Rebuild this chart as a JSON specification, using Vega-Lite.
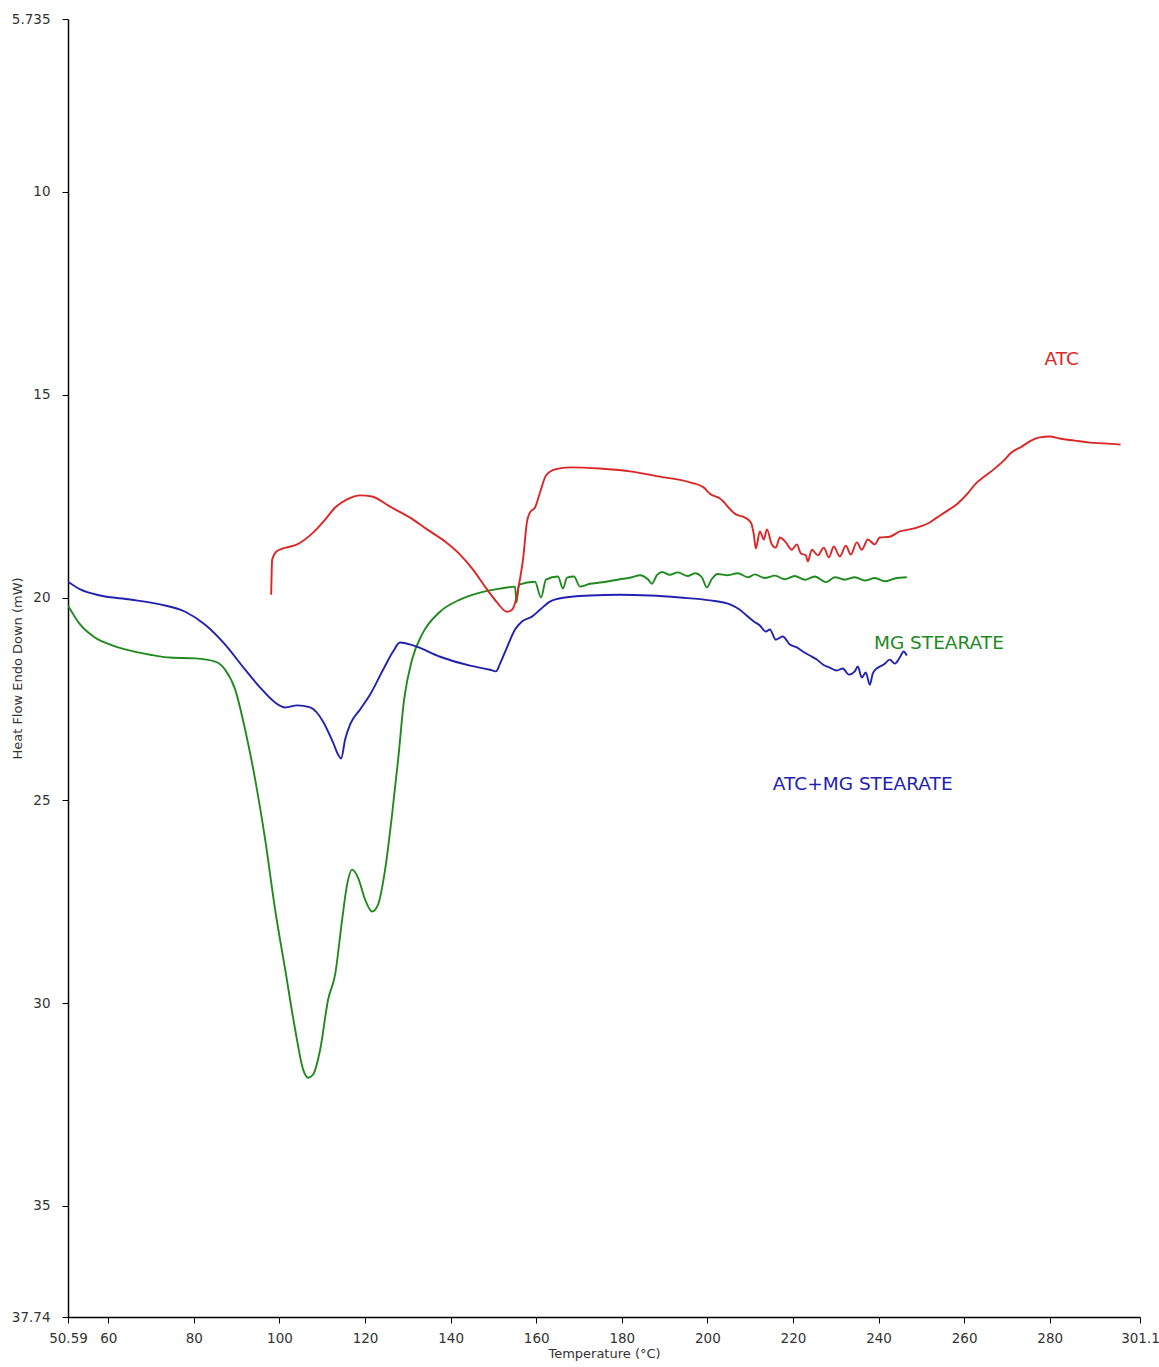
{
  "$schema": "https://vega.github.io/schema/vega-lite/v6.json",
  "width": 1072,
  "height": 1298,
  "autosize": {"type": "none"},
  "padding": {"left": 68, "top": 19, "right": 19, "bottom": 50},
  "background": "white",
  "config": {
    "view": {"stroke": null},
    "font": "DejaVu Sans",
    "axis": {"grid": false, "domainColor": "#000", "domainWidth": 1.5, "tickColor": "#000", "tickSize": 6, "labelFlush": false, "labelFont": "DejaVu Sans", "labelFontSize": 13.5, "labelColor": "#333", "titleFont": "DejaVu Sans", "titleFontSize": 13, "titleFontWeight": "normal", "titleColor": "#333"}
  },
  "datasets": {
    "curves": [
      {"T": 50.6, "HF": 20.2, "series": "MG STEARATE"},
      {"T": 53.46, "HF": 20.67, "series": "MG STEARATE"},
      {"T": 56.96, "HF": 20.99, "series": "MG STEARATE"},
      {"T": 60.47, "HF": 21.16, "series": "MG STEARATE"},
      {"T": 65.14, "HF": 21.31, "series": "MG STEARATE"},
      {"T": 69.81, "HF": 21.41, "series": "MG STEARATE"},
      {"T": 74.48, "HF": 21.48, "series": "MG STEARATE"},
      {"T": 80.32, "HF": 21.5, "series": "MG STEARATE"},
      {"T": 84.99, "HF": 21.58, "series": "MG STEARATE"},
      {"T": 87.32, "HF": 21.78, "series": "MG STEARATE"},
      {"T": 89.66, "HF": 22.27, "series": "MG STEARATE"},
      {"T": 91.99, "HF": 23.26, "series": "MG STEARATE"},
      {"T": 94.33, "HF": 24.49, "series": "MG STEARATE"},
      {"T": 96.67, "HF": 25.97, "series": "MG STEARATE"},
      {"T": 99.0, "HF": 27.7, "series": "MG STEARATE"},
      {"T": 101.34, "HF": 29.17, "series": "MG STEARATE"},
      {"T": 103.67, "HF": 30.65, "series": "MG STEARATE"},
      {"T": 105.54, "HF": 31.64, "series": "MG STEARATE"},
      {"T": 106.71, "HF": 31.84, "series": "MG STEARATE"},
      {"T": 107.87, "HF": 31.76, "series": "MG STEARATE"},
      {"T": 109.51, "HF": 31.15, "series": "MG STEARATE"},
      {"T": 111.38, "HF": 29.91, "series": "MG STEARATE"},
      {"T": 113.01, "HF": 29.3, "series": "MG STEARATE"},
      {"T": 114.65, "HF": 27.94, "series": "MG STEARATE"},
      {"T": 115.81, "HF": 27.08, "series": "MG STEARATE"},
      {"T": 116.98, "HF": 26.71, "series": "MG STEARATE"},
      {"T": 118.38, "HF": 26.91, "series": "MG STEARATE"},
      {"T": 120.02, "HF": 27.45, "series": "MG STEARATE"},
      {"T": 121.65, "HF": 27.74, "series": "MG STEARATE"},
      {"T": 123.05, "HF": 27.57, "series": "MG STEARATE"},
      {"T": 124.69, "HF": 26.71, "series": "MG STEARATE"},
      {"T": 126.32, "HF": 25.35, "series": "MG STEARATE"},
      {"T": 127.73, "HF": 24.0, "series": "MG STEARATE"},
      {"T": 129.13, "HF": 22.52, "series": "MG STEARATE"},
      {"T": 130.99, "HF": 21.53, "series": "MG STEARATE"},
      {"T": 133.33, "HF": 20.91, "series": "MG STEARATE"},
      {"T": 137.53, "HF": 20.35, "series": "MG STEARATE"},
      {"T": 142.2, "HF": 20.05, "series": "MG STEARATE"},
      {"T": 146.88, "HF": 19.88, "series": "MG STEARATE"},
      {"T": 151.55, "HF": 19.78, "series": "MG STEARATE"},
      {"T": 155.05, "HF": 19.73, "series": "MG STEARATE"},
      {"T": 155.4, "HF": 20.12, "series": "MG STEARATE"},
      {"T": 155.98, "HF": 19.68, "series": "MG STEARATE"},
      {"T": 159.72, "HF": 19.61, "series": "MG STEARATE"},
      {"T": 161.12, "HF": 20.0, "series": "MG STEARATE"},
      {"T": 162.29, "HF": 19.56, "series": "MG STEARATE"},
      {"T": 165.09, "HF": 19.48, "series": "MG STEARATE"},
      {"T": 166.26, "HF": 19.78, "series": "MG STEARATE"},
      {"T": 167.19, "HF": 19.51, "series": "MG STEARATE"},
      {"T": 168.83, "HF": 19.48, "series": "MG STEARATE"},
      {"T": 170.23, "HF": 19.73, "series": "MG STEARATE"},
      {"T": 172.56, "HF": 19.66, "series": "MG STEARATE"},
      {"T": 174.9, "HF": 19.63, "series": "MG STEARATE"},
      {"T": 179.57, "HF": 19.55, "series": "MG STEARATE"},
      {"T": 182.37, "HF": 19.5, "series": "MG STEARATE"},
      {"T": 184.24, "HF": 19.45, "series": "MG STEARATE"},
      {"T": 186.1, "HF": 19.55, "series": "MG STEARATE"},
      {"T": 187.04, "HF": 19.66, "series": "MG STEARATE"},
      {"T": 188.2, "HF": 19.45, "series": "MG STEARATE"},
      {"T": 189.4, "HF": 19.37, "series": "MG STEARATE"},
      {"T": 191.2, "HF": 19.44, "series": "MG STEARATE"},
      {"T": 193.1, "HF": 19.38, "series": "MG STEARATE"},
      {"T": 195.4, "HF": 19.47, "series": "MG STEARATE"},
      {"T": 197.1, "HF": 19.4, "series": "MG STEARATE"},
      {"T": 198.7, "HF": 19.5, "series": "MG STEARATE"},
      {"T": 199.9, "HF": 19.75, "series": "MG STEARATE"},
      {"T": 201.0, "HF": 19.55, "series": "MG STEARATE"},
      {"T": 202.4, "HF": 19.42, "series": "MG STEARATE"},
      {"T": 204.8, "HF": 19.45, "series": "MG STEARATE"},
      {"T": 207.1, "HF": 19.4, "series": "MG STEARATE"},
      {"T": 209.5, "HF": 19.5, "series": "MG STEARATE"},
      {"T": 211.1, "HF": 19.43, "series": "MG STEARATE"},
      {"T": 213.4, "HF": 19.52, "series": "MG STEARATE"},
      {"T": 215.8, "HF": 19.46, "series": "MG STEARATE"},
      {"T": 218.1, "HF": 19.55, "series": "MG STEARATE"},
      {"T": 220.4, "HF": 19.47, "series": "MG STEARATE"},
      {"T": 222.8, "HF": 19.56, "series": "MG STEARATE"},
      {"T": 225.1, "HF": 19.48, "series": "MG STEARATE"},
      {"T": 227.7, "HF": 19.62, "series": "MG STEARATE"},
      {"T": 229.8, "HF": 19.5, "series": "MG STEARATE"},
      {"T": 232.1, "HF": 19.56, "series": "MG STEARATE"},
      {"T": 234.5, "HF": 19.5, "series": "MG STEARATE"},
      {"T": 236.8, "HF": 19.58, "series": "MG STEARATE"},
      {"T": 239.1, "HF": 19.52, "series": "MG STEARATE"},
      {"T": 241.5, "HF": 19.6, "series": "MG STEARATE"},
      {"T": 243.8, "HF": 19.53, "series": "MG STEARATE"},
      {"T": 246.6, "HF": 19.5, "series": "MG STEARATE"},

      {"T": 98.07, "HF": 19.93, "series": "ATC"},
      {"T": 98.3, "HF": 19.06, "series": "ATC"},
      {"T": 99.23, "HF": 18.87, "series": "ATC"},
      {"T": 100.87, "HF": 18.79, "series": "ATC"},
      {"T": 104.14, "HF": 18.69, "series": "ATC"},
      {"T": 107.87, "HF": 18.4, "series": "ATC"},
      {"T": 110.68, "HF": 18.08, "series": "ATC"},
      {"T": 113.01, "HF": 17.78, "series": "ATC"},
      {"T": 115.81, "HF": 17.58, "series": "ATC"},
      {"T": 118.85, "HF": 17.48, "series": "ATC"},
      {"T": 121.65, "HF": 17.51, "series": "ATC"},
      {"T": 125.86, "HF": 17.76, "series": "ATC"},
      {"T": 130.53, "HF": 18.03, "series": "ATC"},
      {"T": 134.5, "HF": 18.32, "series": "ATC"},
      {"T": 138.7, "HF": 18.62, "series": "ATC"},
      {"T": 142.2, "HF": 18.94, "series": "ATC"},
      {"T": 145.24, "HF": 19.31, "series": "ATC"},
      {"T": 148.51, "HF": 19.8, "series": "ATC"},
      {"T": 150.85, "HF": 20.12, "series": "ATC"},
      {"T": 153.18, "HF": 20.35, "series": "ATC"},
      {"T": 154.35, "HF": 20.3, "series": "ATC"},
      {"T": 155.28, "HF": 20.05, "series": "ATC"},
      {"T": 155.98, "HF": 19.68, "series": "ATC"},
      {"T": 156.92, "HF": 19.06, "series": "ATC"},
      {"T": 157.85, "HF": 18.13, "series": "ATC"},
      {"T": 158.55, "HF": 17.9, "series": "ATC"},
      {"T": 159.72, "HF": 17.78, "series": "ATC"},
      {"T": 160.89, "HF": 17.41, "series": "ATC"},
      {"T": 162.29, "HF": 16.99, "series": "ATC"},
      {"T": 164.39, "HF": 16.84, "series": "ATC"},
      {"T": 167.89, "HF": 16.79, "series": "ATC"},
      {"T": 174.9, "HF": 16.82, "series": "ATC"},
      {"T": 181.9, "HF": 16.89, "series": "ATC"},
      {"T": 188.91, "HF": 17.02, "series": "ATC"},
      {"T": 195.92, "HF": 17.16, "series": "ATC"},
      {"T": 199.19, "HF": 17.29, "series": "ATC"},
      {"T": 200.59, "HF": 17.44, "series": "ATC"},
      {"T": 202.92, "HF": 17.56, "series": "ATC"},
      {"T": 206.66, "HF": 17.95, "series": "ATC"},
      {"T": 208.76, "HF": 18.03, "series": "ATC"},
      {"T": 210.16, "HF": 18.15, "series": "ATC"},
      {"T": 210.86, "HF": 18.45, "series": "ATC"},
      {"T": 211.33, "HF": 18.79, "series": "ATC"},
      {"T": 212.27, "HF": 18.37, "series": "ATC"},
      {"T": 213.2, "HF": 18.57, "series": "ATC"},
      {"T": 213.9, "HF": 18.32, "series": "ATC"},
      {"T": 215.07, "HF": 18.69, "series": "ATC"},
      {"T": 216.0, "HF": 18.77, "series": "ATC"},
      {"T": 216.94, "HF": 18.52, "series": "ATC"},
      {"T": 218.34, "HF": 18.64, "series": "ATC"},
      {"T": 219.74, "HF": 18.82, "series": "ATC"},
      {"T": 220.91, "HF": 18.69, "series": "ATC"},
      {"T": 221.84, "HF": 18.91, "series": "ATC"},
      {"T": 223.01, "HF": 18.96, "series": "ATC"},
      {"T": 223.48, "HF": 19.11, "series": "ATC"},
      {"T": 224.41, "HF": 18.82, "series": "ATC"},
      {"T": 225.81, "HF": 18.96, "series": "ATC"},
      {"T": 227.21, "HF": 18.77, "series": "ATC"},
      {"T": 228.38, "HF": 19.01, "series": "ATC"},
      {"T": 229.55, "HF": 18.74, "series": "ATC"},
      {"T": 230.95, "HF": 18.99, "series": "ATC"},
      {"T": 232.35, "HF": 18.72, "series": "ATC"},
      {"T": 233.52, "HF": 18.94, "series": "ATC"},
      {"T": 234.92, "HF": 18.64, "series": "ATC"},
      {"T": 236.09, "HF": 18.82, "series": "ATC"},
      {"T": 237.49, "HF": 18.57, "series": "ATC"},
      {"T": 239.12, "HF": 18.69, "series": "ATC"},
      {"T": 240.29, "HF": 18.52, "series": "ATC"},
      {"T": 242.63, "HF": 18.5, "series": "ATC"},
      {"T": 244.96, "HF": 18.37, "series": "ATC"},
      {"T": 247.3, "HF": 18.32, "series": "ATC"},
      {"T": 249.63, "HF": 18.25, "series": "ATC"},
      {"T": 251.97, "HF": 18.15, "series": "ATC"},
      {"T": 253.6, "HF": 18.03, "series": "ATC"},
      {"T": 255.47, "HF": 17.9, "series": "ATC"},
      {"T": 258.51, "HF": 17.68, "series": "ATC"},
      {"T": 260.84, "HF": 17.43, "series": "ATC"},
      {"T": 262.71, "HF": 17.19, "series": "ATC"},
      {"T": 264.81, "HF": 17.01, "series": "ATC"},
      {"T": 266.91, "HF": 16.84, "series": "ATC"},
      {"T": 269.01, "HF": 16.65, "series": "ATC"},
      {"T": 271.12, "HF": 16.42, "series": "ATC"},
      {"T": 273.45, "HF": 16.28, "series": "ATC"},
      {"T": 275.32, "HF": 16.15, "series": "ATC"},
      {"T": 277.66, "HF": 16.05, "series": "ATC"},
      {"T": 279.99, "HF": 16.03, "series": "ATC"},
      {"T": 282.33, "HF": 16.08, "series": "ATC"},
      {"T": 285.83, "HF": 16.13, "series": "ATC"},
      {"T": 289.33, "HF": 16.18, "series": "ATC"},
      {"T": 292.84, "HF": 16.2, "series": "ATC"},
      {"T": 296.57, "HF": 16.23, "series": "ATC"},

      {"T": 50.6, "HF": 19.61, "series": "ATC+MG STEARATE"},
      {"T": 53.46, "HF": 19.8, "series": "ATC+MG STEARATE"},
      {"T": 58.13, "HF": 19.95, "series": "ATC+MG STEARATE"},
      {"T": 65.14, "HF": 20.05, "series": "ATC+MG STEARATE"},
      {"T": 72.14, "HF": 20.17, "series": "ATC+MG STEARATE"},
      {"T": 77.98, "HF": 20.35, "series": "ATC+MG STEARATE"},
      {"T": 82.65, "HF": 20.67, "series": "ATC+MG STEARATE"},
      {"T": 87.32, "HF": 21.16, "series": "ATC+MG STEARATE"},
      {"T": 91.99, "HF": 21.78, "series": "ATC+MG STEARATE"},
      {"T": 95.5, "HF": 22.22, "series": "ATC+MG STEARATE"},
      {"T": 99.0, "HF": 22.59, "series": "ATC+MG STEARATE"},
      {"T": 101.34, "HF": 22.71, "series": "ATC+MG STEARATE"},
      {"T": 104.14, "HF": 22.66, "series": "ATC+MG STEARATE"},
      {"T": 107.17, "HF": 22.71, "series": "ATC+MG STEARATE"},
      {"T": 110.21, "HF": 23.06, "series": "ATC+MG STEARATE"},
      {"T": 112.55, "HF": 23.58, "series": "ATC+MG STEARATE"},
      {"T": 113.71, "HF": 23.87, "series": "ATC+MG STEARATE"},
      {"T": 114.41, "HF": 23.97, "series": "ATC+MG STEARATE"},
      {"T": 115.35, "HF": 23.5, "series": "ATC+MG STEARATE"},
      {"T": 116.52, "HF": 23.13, "series": "ATC+MG STEARATE"},
      {"T": 118.85, "HF": 22.76, "series": "ATC+MG STEARATE"},
      {"T": 121.19, "HF": 22.39, "series": "ATC+MG STEARATE"},
      {"T": 124.22, "HF": 21.78, "series": "ATC+MG STEARATE"},
      {"T": 126.56, "HF": 21.33, "series": "ATC+MG STEARATE"},
      {"T": 128.19, "HF": 21.11, "series": "ATC+MG STEARATE"},
      {"T": 131.23, "HF": 21.18, "series": "ATC+MG STEARATE"},
      {"T": 137.53, "HF": 21.46, "series": "ATC+MG STEARATE"},
      {"T": 144.54, "HF": 21.68, "series": "ATC+MG STEARATE"},
      {"T": 149.21, "HF": 21.78, "series": "ATC+MG STEARATE"},
      {"T": 150.61, "HF": 21.82, "series": "ATC+MG STEARATE"},
      {"T": 151.55, "HF": 21.63, "series": "ATC+MG STEARATE"},
      {"T": 153.18, "HF": 21.23, "series": "ATC+MG STEARATE"},
      {"T": 155.05, "HF": 20.79, "series": "ATC+MG STEARATE"},
      {"T": 156.68, "HF": 20.59, "series": "ATC+MG STEARATE"},
      {"T": 159.02, "HF": 20.47, "series": "ATC+MG STEARATE"},
      {"T": 160.89, "HF": 20.3, "series": "ATC+MG STEARATE"},
      {"T": 163.22, "HF": 20.1, "series": "ATC+MG STEARATE"},
      {"T": 166.73, "HF": 20.0, "series": "ATC+MG STEARATE"},
      {"T": 172.56, "HF": 19.95, "series": "ATC+MG STEARATE"},
      {"T": 179.57, "HF": 19.93, "series": "ATC+MG STEARATE"},
      {"T": 186.57, "HF": 19.95, "series": "ATC+MG STEARATE"},
      {"T": 193.58, "HF": 20.0, "series": "ATC+MG STEARATE"},
      {"T": 200.59, "HF": 20.07, "series": "ATC+MG STEARATE"},
      {"T": 205.26, "HF": 20.17, "series": "ATC+MG STEARATE"},
      {"T": 207.59, "HF": 20.3, "series": "ATC+MG STEARATE"},
      {"T": 209.46, "HF": 20.47, "series": "ATC+MG STEARATE"},
      {"T": 210.86, "HF": 20.59, "series": "ATC+MG STEARATE"},
      {"T": 212.27, "HF": 20.69, "series": "ATC+MG STEARATE"},
      {"T": 213.67, "HF": 20.84, "series": "ATC+MG STEARATE"},
      {"T": 214.6, "HF": 20.79, "series": "ATC+MG STEARATE"},
      {"T": 216.0, "HF": 21.04, "series": "ATC+MG STEARATE"},
      {"T": 217.64, "HF": 20.96, "series": "ATC+MG STEARATE"},
      {"T": 219.27, "HF": 21.16, "series": "ATC+MG STEARATE"},
      {"T": 220.91, "HF": 21.23, "series": "ATC+MG STEARATE"},
      {"T": 222.31, "HF": 21.33, "series": "ATC+MG STEARATE"},
      {"T": 223.94, "HF": 21.43, "series": "ATC+MG STEARATE"},
      {"T": 225.58, "HF": 21.53, "series": "ATC+MG STEARATE"},
      {"T": 226.98, "HF": 21.65, "series": "ATC+MG STEARATE"},
      {"T": 228.61, "HF": 21.73, "series": "ATC+MG STEARATE"},
      {"T": 230.25, "HF": 21.8, "series": "ATC+MG STEARATE"},
      {"T": 231.65, "HF": 21.75, "series": "ATC+MG STEARATE"},
      {"T": 233.05, "HF": 21.9, "series": "ATC+MG STEARATE"},
      {"T": 234.45, "HF": 21.82, "series": "ATC+MG STEARATE"},
      {"T": 235.15, "HF": 21.7, "series": "ATC+MG STEARATE"},
      {"T": 236.09, "HF": 21.97, "series": "ATC+MG STEARATE"},
      {"T": 237.02, "HF": 21.85, "series": "ATC+MG STEARATE"},
      {"T": 237.96, "HF": 22.15, "series": "ATC+MG STEARATE"},
      {"T": 238.66, "HF": 21.87, "series": "ATC+MG STEARATE"},
      {"T": 239.82, "HF": 21.73, "series": "ATC+MG STEARATE"},
      {"T": 241.23, "HF": 21.65, "series": "ATC+MG STEARATE"},
      {"T": 242.63, "HF": 21.53, "series": "ATC+MG STEARATE"},
      {"T": 243.8, "HF": 21.63, "series": "ATC+MG STEARATE"},
      {"T": 244.96, "HF": 21.48, "series": "ATC+MG STEARATE"},
      {"T": 245.89, "HF": 21.33, "series": "ATC+MG STEARATE"},
      {"T": 246.59, "HF": 21.43, "series": "ATC+MG STEARATE"}
    ],
    "labels": [
      {"T": 282.8, "HF": 14.13, "series": "ATC", "text": "ATC"},
      {"T": 254.1, "HF": 21.13, "series": "MG STEARATE", "text": "MG STEARATE"},
      {"T": 236.3, "HF": 24.61, "series": "ATC+MG STEARATE", "text": "ATC+MG STEARATE"}
    ]
  },
  "layer": [
    {
      "data": {"name": "curves"},
      "mark": {"type": "line", "strokeWidth": 1.9, "clip": true, "interpolate": "monotone"},
      "encoding": {
        "x": {"field": "T", "type": "quantitative", "scale": {"domain": [50.59, 301.1], "nice": false, "zero": false},
          "axis": {"values": [50.59, 60, 80, 100, 120, 140, 160, 180, 200, 220, 240, 260, 280, 301.1], "labelExpr": "'' + datum.value", "title": "Temperature (°C)", "titlePadding": 3, "labelPadding": 8}},
        "y": {"field": "HF", "type": "quantitative", "scale": {"domain": [5.735, 37.74], "nice": false, "zero": false, "reverse": true},
          "axis": {"values": [5.735, 10, 15, 20, 25, 30, 35, 37.74], "labelExpr": "'' + datum.value", "title": "Heat Flow Endo Down (mW)", "titleX": -44, "labelPadding": 12}},
        "color": {"field": "series", "type": "nominal", "legend": null,
          "scale": {"domain": ["ATC", "MG STEARATE", "ATC+MG STEARATE"], "range": ["#dc2626", "#1f8a1f", "#2222b0"]}}
      }
    },
    {
      "data": {"name": "labels"},
      "mark": {"type": "text", "fontSize": 18.5, "font": "DejaVu Sans", "align": "center", "baseline": "middle"},
      "encoding": {
        "x": {"field": "T", "type": "quantitative"},
        "y": {"field": "HF", "type": "quantitative"},
        "text": {"field": "text", "type": "nominal"},
        "color": {"field": "series", "type": "nominal", "legend": null}
      }
    }
  ]
}
